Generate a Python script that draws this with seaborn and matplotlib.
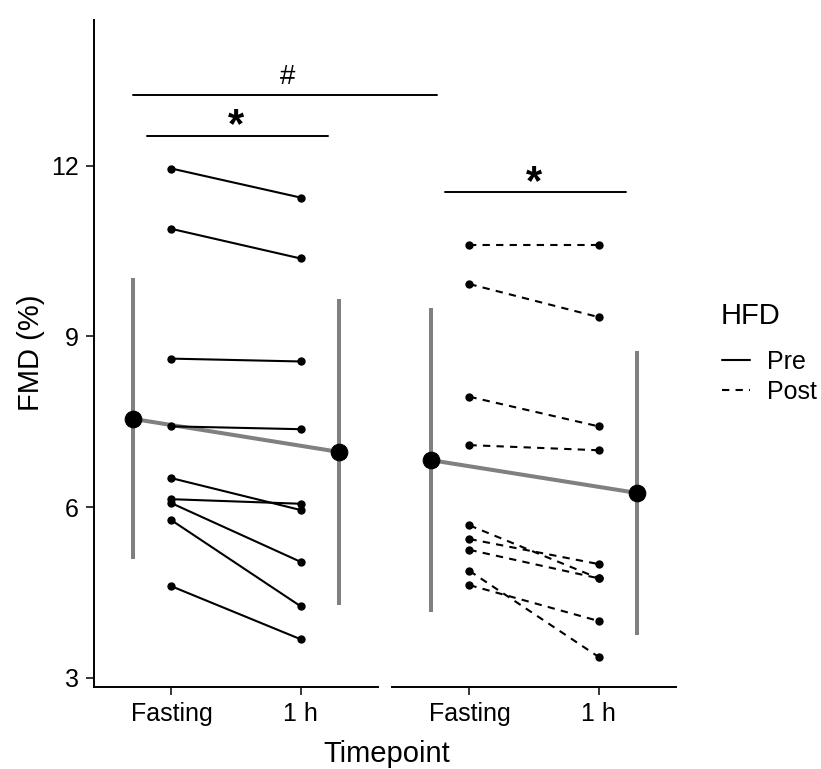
import pandas as pd
import matplotlib
matplotlib.use('Agg')
import matplotlib.pyplot as plt
from matplotlib.lines import Line2D
import seaborn as sns


# FMD (%) per subject
timepoints = ['Fasting', '1 h']
pre_fasting = [11.95, 10.89, 8.61, 7.42, 6.51, 6.14, 6.07, 5.77, 4.61]
pre_1h = [11.44, 10.37, 8.56, 7.37, 5.95, 6.06, 5.04, 4.26, 3.68]
post_fasting = [10.61, 9.92, 7.94, 7.09, 5.68, 5.44, 5.25, 4.88, 4.63]
post_1h = [10.61, 9.34, 7.42, 7.00, 4.75, 5.00, 4.75, 3.37, 4.00]

# half length of the grey error bars (SD) as drawn
pre_sd = [2.47, 2.69]
post_sd = [2.67, 2.49]

hfd_groups = ['Pre', 'Post']
y_ticks = [3, 6, 9, 12]

GREY = '#808080'
DASH = (0, (3.5, 3))


#---------------------------------------------------------------------------------------------------------------------
def make_df(fasting, one_h, group):
    rows = []
    for i, (a, b) in enumerate(zip(fasting, one_h)):
        rows.append({'subject': i, 'Timepoint': timepoints[0], 'x': 0, 'FMD': a, 'HFD': group})
        rows.append({'subject': i, 'Timepoint': timepoints[1], 'x': 1, 'FMD': b, 'HFD': group})
    df = pd.DataFrame(rows)
    # group means are nudged outwards like in the original
    df['x_mean'] = df['x'].map({0: -0.3, 1: 1.3})
    return df


def draw_panel(ax, df, sd, style):
    means = df.groupby('x_mean')['FMD'].mean()
    ax.errorbar(means.index, means.values, yerr=sd, fmt='none', ecolor=GREY,
                elinewidth=2.9, capsize=0, zorder=1)
    sns.lineplot(data=df, x='x_mean', y='FMD', estimator='mean', errorbar=None,
                 color=GREY, lw=2.9, marker='o', markersize=12,
                 markerfacecolor='black', markeredgecolor='black',
                 ax=ax, legend=False, zorder=2)
    sns.lineplot(data=df, x='x', y='FMD', units='subject', estimator=None,
                 color='black', lw=1.5, linestyle=style, marker='o', markersize=6,
                 markeredgewidth=0, ax=ax, legend=False, zorder=3)

    ax.set_xlim(-0.6, 1.6)
    ax.set_ylim(2.84, 14.56)
    ax.set_xticks([0, 1])
    ax.set_xticklabels(timepoints)
    ax.set_xlabel('')
    ax.set_ylabel('')
    ax.patch.set_alpha(0)
    ax.tick_params(axis='both', labelsize=18, length=6, width=1.1, color='black',
                   labelcolor='black', pad=5, bottom=True, left=True)
    for side in ['top', 'right']:
        ax.spines[side].set_visible(False)
    for side in ['left', 'bottom']:
        ax.spines[side].set_linewidth(1.4)
        ax.spines[side].set_color('black')


def bracket(ax, x0, x1, y, label, ty, size, tx=None, weight='normal'):
    ax.plot([x0, x1], [y, y], color='black', lw=1.4, clip_on=False, zorder=5)
    if tx is None:
        tx = 0.5
    ax.text(tx, ty, label, ha='center', va='center', fontsize=size,
            fontweight=weight, clip_on=False)


#---------------------------------------------------------------------------------------------------------------------
def main():
    sns.set_style('white')
    plt.rcParams['font.family'] = ['Liberation Sans', 'DejaVu Sans']
    plt.rcParams['text.color'] = 'black'

    df_pre = make_df(pre_fasting, pre_1h, hfd_groups[0])
    df_post = make_df(post_fasting, post_1h, hfd_groups[1])

    fig = plt.figure(figsize=(8.21, 7.69), dpi=100)
    ax2 = fig.add_axes([392 / 821, 82 / 769, 284 / 821, 667 / 769])
    ax1 = fig.add_axes([94 / 821, 82 / 769, 284 / 821, 667 / 769])

    draw_panel(ax1, df_pre, pre_sd, '-')
    draw_panel(ax2, df_post, post_sd, DASH)

    ax1.set_yticks(y_ticks)
    ax2.set_yticks(y_ticks)
    ax2.spines['left'].set_visible(False)
    ax2.tick_params(axis='y', left=False, labelleft=False)

    # significance marks
    bracket(ax1, -0.295, 2.054, 13.25, '#', 13.56, 20, tx=0.9)
    bracket(ax1, -0.19, 1.21, 12.52, '*', 12.69, 30, weight='bold')
    bracket(ax2, -0.19, 1.21, 11.53, '*', 11.70, 30, weight='bold')

    fig.text(387 / 821, 1 - 754 / 769, 'Timepoint', ha='center', va='center', fontsize=21)
    fig.text(31 / 821, 1 - 353 / 769, 'FMD (%)', ha='center', va='center',
             rotation=90, fontsize=21)

    # legend: title placed by hand, entries below it
    fig.text(721 / 821, 1 - 316 / 769, 'HFD', ha='left', va='center', fontsize=21)
    handles = [Line2D([], [], color='black', lw=1.5, linestyle='-'),
               Line2D([], [], color='black', lw=1.5, linestyle=DASH)]
    fig.legend(handles, hfd_groups, loc='center left',
               bbox_to_anchor=(722 / 821, 1 - 377 / 769), frameon=False,
               fontsize=18, handlelength=1.1, handletextpad=0.7,
               labelspacing=0.25, borderpad=0, borderaxespad=0)

    fig.savefig('out.png', dpi=100)


#---------------------------------------------------------------------------------------------------------------------

if __name__ == "__main__":
    main()
